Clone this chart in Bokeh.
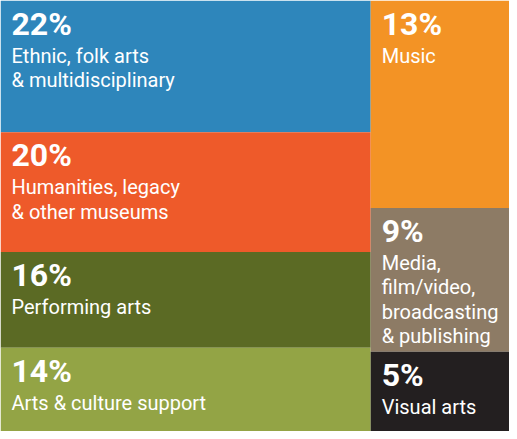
from bokeh.plotting import figure
from bokeh.models import ColumnDataSource, Range1d
from bokeh.core.properties import value
from bokeh.embed import file_html
from bokeh.resources import INLINE

# Data
left_pcts = [22, 20, 16, 14]
left_labels = ["Ethnic, folk arts\n& multidisciplinary",
               "Humanities, legacy\n& other museums",
               "Performing arts",
               "Arts & culture support"]
left_colors = ["#2E86BB", "#EE5A2A", "#5B6A24", "#93A445"]

right_pcts = [13, 9, 5]
right_labels = ["Music",
                "Media,\nfilm/video,\nbroadcasting\n& publishing",
                "Visual arts"]
right_colors = ["#F39325", "#8D7B65", "#231F20"]

left_total = sum(left_pcts)
right_total = sum(right_pcts)
total = left_total + right_total

W, H = 509, 431
p = figure(width=W, height=H, output_backend="svg", toolbar_location=None,
           x_range=Range1d(0, total), y_range=Range1d(0, 1),
           min_border=0, min_border_left=0, min_border_right=0,
           min_border_top=0, min_border_bottom=0)
p.axis.visible = False
p.grid.visible = False
p.outline_line_color = None
p.background_fill_color = "white"

rects = dict(left=[], right=[], top=[], bottom=[], color=[])
pct_src = dict(x=[], y=[], text=[])
lab_src = dict(x=[], y=[], text=[], yo=[])

def column(pcts, labels, colors, x0, x1, col_total):
    top = 1.0
    for v, lab, c in zip(pcts, labels, colors):
        bottom = top - v / col_total
        rects["left"].append(x0); rects["right"].append(x1)
        rects["top"].append(top); rects["bottom"].append(bottom)
        rects["color"].append(c)
        pct_src["x"].append(x0); pct_src["y"].append(top)
        pct_src["text"].append(f"{v}%")
        for i, line in enumerate(lab.split("\n")):
            lab_src["x"].append(x0); lab_src["y"].append(top)
            lab_src["text"].append(line)
            lab_src["yo"].append(55 + 24.4 * i)
        top = bottom

column(left_pcts, left_labels, left_colors, 0, left_total, left_total)
column(right_pcts, right_labels, right_colors, left_total, total, right_total)

p.quad(left="left", right="right", top="top", bottom="bottom",
       fill_color="color", line_color=None, source=ColumnDataSource(rects))

p.text(x="x", y="y", text="text", source=ColumnDataSource(pct_src),
       x_offset=11, y_offset=23, text_baseline="alphabetic", text_align="left",
       text_font=value("Roboto"), text_font_style="bold",
       text_font_size="32px", text_color="white")

p.text(x="x", y="y", text="text", source=ColumnDataSource(lab_src),
       x_offset=11, y_offset="yo", text_baseline="alphabetic", text_align="left",
       text_font=value("Roboto"), text_font_size="20px", text_color="white")

open("out.html", "w").write(file_html(p, INLINE))
